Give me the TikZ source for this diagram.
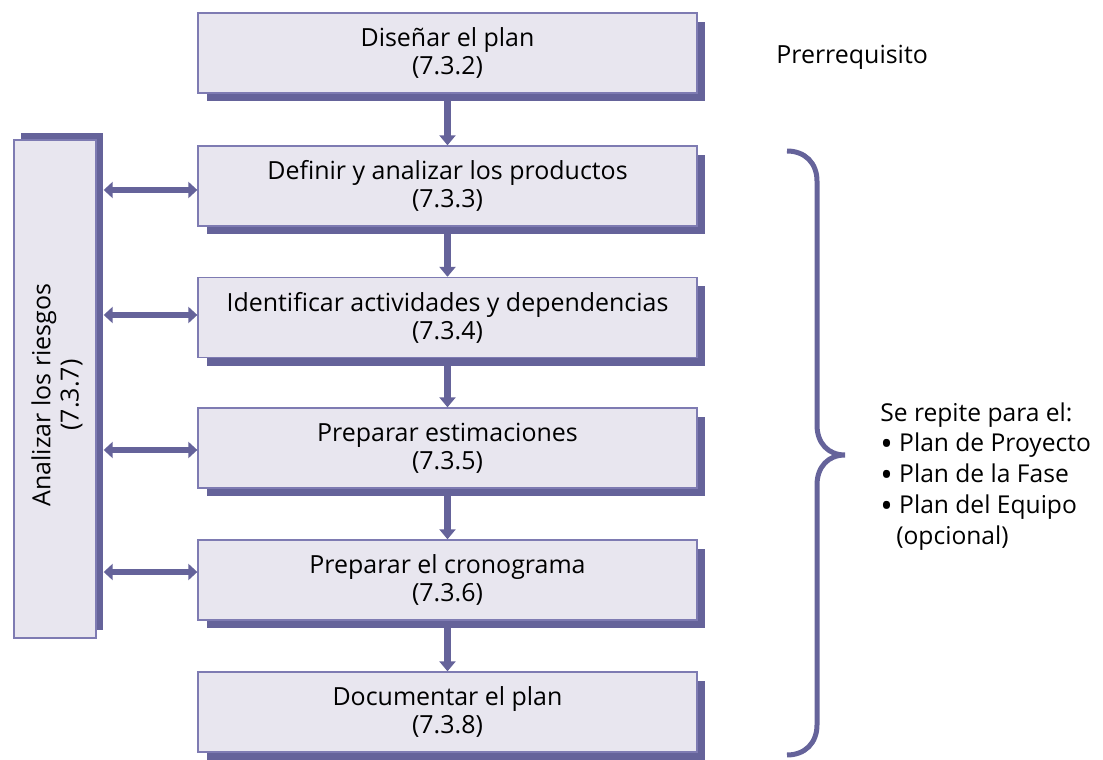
\documentclass[tikz,border=0pt]{standalone}
\usepackage{fontspec}
\setmainfont{Open Sans}
\usetikzlibrary{arrows.meta,shadows}
\definecolor{deepviolet}{HTML}{65639A}
\definecolor{boxfill}{HTML}{E8E6EF}
\definecolor{boxline}{HTML}{7E7BB2}
\newcommand{\bigbullet}{\raisebox{-0.28ex}{\scalebox{1.35}{•}}}
\begin{document}
\begin{tikzpicture}[x=0.02cm,y=-0.02cm,
  txt/.style={font=\fontsize{14.2}{16}\selectfont},
  stage/.style={txt, draw=boxline, line width=0.8pt, fill=boxfill,
    minimum width=9.98cm, minimum height=1.6cm, align=center, inner sep=0pt,
    drop shadow={shadow xshift=0.17cm, shadow yshift=-0.17cm, fill=deepviolet, opacity=1}},
  sidebox/.style={draw=boxline, line width=0.8pt, fill=boxfill,
    minimum width=1.64cm, minimum height=9.96cm, inner sep=0pt,
    drop shadow={shadow xshift=0.14cm, shadow yshift=0.15cm, fill=deepviolet, opacity=1}},
  flow/.style={draw=deepviolet, line width=0.13cm, -{Triangle[width=0.32cm,length=0.2cm]}},
  link/.style={draw=deepviolet, line width=0.13cm,
    {Triangle[width=0.32cm,length=0.18cm]}-{Triangle[width=0.32cm,length=0.18cm]},
    shorten <=0.14cm}
]
\useasboundingbox (0,0) rectangle (1103,760);

% main sequence of planning steps
\node[stage] (b1) at (447.5,53)  {Diseñar el plan\\(7.3.2)};
\node[stage] (b2) at (447.5,186) {Definir y analizar los productos\\(7.3.3)};
\node[stage] (b3) at (447.5,317.5) {Identificar actividades y dependencias\\(7.3.4)};
\node[stage] (b4) at (447.5,448) {Preparar estimaciones\\(7.3.5)};
\node[stage] (b5) at (447.5,580) {Preparar el cronograma\\(7.3.6)};
\node[stage] (b6) at (447.5,712) {Documentar el plan\\(7.3.8)};

% risk analysis running alongside
\node[sidebox] (risk) at (55,389) {};
\node[txt, rotate=90, align=center] (risklabel) at (57,395) {Analizar los riesgos\\(7.3.7)};

% step-to-step arrows
\draw[flow] (b1) -- (b2);
\draw[flow] (b2) -- (b3);
\draw[flow] (b3) -- (b4);
\draw[flow] (b4) -- (b5);
\draw[flow] (b5) -- (b6);

% two-way links with the risk analysis
\coordinate (in2) at ([yshift=-0.08cm]b2.west);
\coordinate (in3) at ([yshift=0.05cm]b3.west);
\coordinate (in4) at ([yshift=-0.04cm]b4.west);
\coordinate (in5) at ([yshift=0.16cm]b5.west);
\draw[link] (risk.east |- in2) -- (in2);
\draw[link] (risk.east |- in3) -- (in3);
\draw[link] (risk.east |- in4) -- (in4);
\draw[link] (risk.east |- in5) -- (in5);

% labels on the right
\node[txt, anchor=west, inner sep=0pt] (pre) at (776,57) {Prerrequisito};

\draw[deepviolet, line width=0.1cm]
  (787,151) .. controls (805,151) and (817,163) .. (817,181)
  -- (817,425) .. controls (817,443) and (828,455) .. (845,455)
  .. controls (828,455) and (817,467) .. (817,485)
  -- (817,725) .. controls (817,743) and (805,755) .. (787,755);

\node[anchor=north west, align=left, inner sep=0pt,
  font=\fontsize{14}{17.6}\selectfont] (repeat) at (880,402)
  {Se repite para el:\\
   \bigbullet{} Plan de Proyecto\\
   \bigbullet{} Plan de la Fase\\
   \bigbullet{} Plan del Equipo\\
   \hspace*{0.32cm}(opcional)};
\end{tikzpicture}
\end{document}
